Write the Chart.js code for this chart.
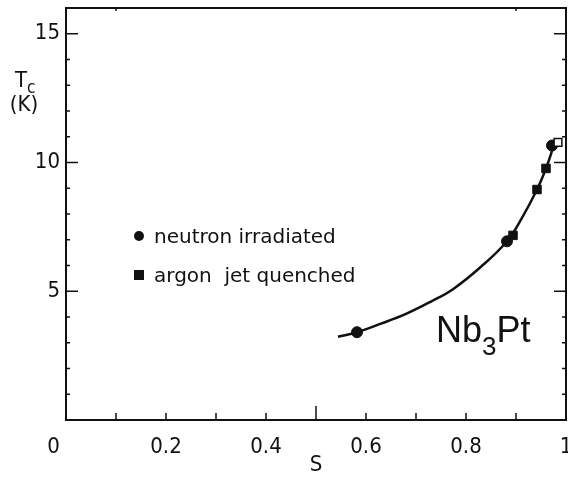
<!DOCTYPE html>
<html>
<head>
<meta charset="utf-8">
<script src="https://cdn.jsdelivr.net/npm/chart.js@4/dist/chart.umd.min.js"></script>
<style>
  body { margin: 0; background: #fff; }
  #wrap { width: 568px; height: 482px; }
</style>
</head>
<body>
<div id="wrap"><canvas id="tcChart" width="568" height="482"></canvas></div>
<script>
// values (S = order parameter, Tc in K)
var neutronS = [0.582, 0.882, 0.972];
var neutronTc = [3.41, 6.94, 10.66];
var argonS = [0.894, 0.942, 0.960];
var argonTc = [7.17, 8.95, 9.77];
var openS = [0.984];
var openTc = [10.78];
var curveS = [0.544, 0.582, 0.630, 0.680, 0.730, 0.774, 0.830, 0.882, 0.912, 0.942, 0.960, 0.972, 0.978];
var curveTc = [3.23, 3.41, 3.74, 4.12, 4.60, 5.08, 5.95, 6.94, 7.85, 8.95, 9.77, 10.45, 10.85];
var xTicks = [0, 0.2, 0.4, 0.6, 0.8, 1];
var yTicks = [5, 10, 15];

var fontFam = '"DejaVu Sans Condensed", "Liberation Sans Narrow", "DejaVu Sans", sans-serif';

function pts(xs, ys) {
    let out = [];
    for (let i = 0; i < xs.length; i++) {
        out.push({ x: xs[i], y: ys[i] });
    }
    return out;
}

var extras = {
    id: 'extras',
    afterDraw: function(chart) {
        const ctx = chart.ctx;
        const a = chart.chartArea;
        const xs = chart.scales.x;
        const ys = chart.scales.y;
        ctx.save();
        ctx.strokeStyle = '#111';
        ctx.lineWidth = 2;
        // top and right frame
        ctx.beginPath();
        ctx.moveTo(a.left, a.top);
        ctx.lineTo(a.right, a.top);
        ctx.lineTo(a.right, a.bottom);
        ctx.stroke();

        // inward tick marks
        ctx.lineWidth = 1.5;
        ctx.beginPath();
        for (let i = 1; i < 10; i++) {
            let px = xs.getPixelForValue(i / 10);
            let len = (i === 5) ? 14 : 7;
            ctx.moveTo(px, a.bottom);
            ctx.lineTo(px, a.bottom - len);
            if (i === 1 || i === 9) {
                ctx.moveTo(px, a.top);
                ctx.lineTo(px, a.top + 3);
            }
        }
        for (let v = 1; v < 16; v++) {
            let py = ys.getPixelForValue(v);
            let len = (v % 5 === 0) ? 12 : 4;
            ctx.moveTo(a.left, py);
            ctx.lineTo(a.left + len, py);
            ctx.moveTo(a.right, py);
            ctx.lineTo(a.right - len, py);
        }
        ctx.stroke();

        ctx.fillStyle = '#111';
        // y title
        ctx.textBaseline = 'alphabetic';
        ctx.textAlign = 'left';
        ctx.font = '22px ' + fontFam;
        ctx.fillText('T', 15, 87);
        ctx.font = '17px ' + fontFam;
        ctx.fillText('c', 27, 93);
        ctx.font = '22px ' + fontFam;
        ctx.textAlign = 'center';
        ctx.fillText('(K)', 24, 111);

        // legend
        ctx.beginPath();
        ctx.arc(139, 236, 5, 0, Math.PI * 2);
        ctx.fill();
        ctx.fillRect(134, 270, 10, 10);
        ctx.textAlign = 'left';
        ctx.font = '20px "DejaVu Sans", sans-serif';
        ctx.fillText('neutron irradiated', 154, 243);
        ctx.fillText('argon  jet quenched', 154, 282);

        // compound label
        ctx.font = '36px "Liberation Sans", Arimo, sans-serif';
        ctx.fillText('Nb', 436, 342);
        let w = ctx.measureText('Nb').width;
        ctx.font = '26px "Liberation Sans", Arimo, sans-serif';
        ctx.fillText('3', 436 + w, 355);
        let w3 = ctx.measureText('3').width;
        ctx.font = '36px "Liberation Sans", Arimo, sans-serif';
        ctx.fillText('Pt', 436 + w + w3, 342);
        ctx.restore();
    }
};

var ctx = document.getElementById('tcChart').getContext('2d');
new Chart(ctx, {
    type: 'scatter',
    data: {
        datasets: [{
            label: 'fit',
            data: pts(curveS, curveTc),
            showLine: true,
            borderColor: '#111',
            borderWidth: 2.5,
            pointRadius: 0,
            tension: 0.4,
            order: 2
        }, {
            label: 'neutron irradiated',
            data: pts(neutronS, neutronTc),
            pointStyle: 'circle',
            pointRadius: 5.5,
            backgroundColor: '#111',
            borderColor: '#111',
            order: 1
        }, {
            label: 'argon jet quenched',
            data: pts(argonS, argonTc),
            pointStyle: 'rect',
            pointRadius: 6,
            backgroundColor: '#111',
            borderColor: '#111',
            order: 1
        }, {
            label: 'open',
            data: pts(openS, openTc),
            pointStyle: 'rect',
            pointRadius: 5.5,
            backgroundColor: '#fff',
            borderColor: '#111',
            borderWidth: 1.5,
            order: 0
        }]
    },
    options: {
        responsive: false,
        animation: false,
        layout: { autoPadding: false, padding: { top: 8, right: 2, left: 0, bottom: 0 } },
        plugins: { legend: { display: false }, tooltip: { enabled: false } },
        scales: {
            x: {
                type: 'linear',
                min: 0,
                max: 1,
                afterBuildTicks: function(scale) {
                    scale.ticks = xTicks.map(function(v) { return { value: v }; });
                },
                afterFit: function(scale) {
                    scale.height = 62;
                    scale.paddingLeft = 0;
                    scale.paddingRight = 0;
                },
                ticks: {
                    autoSkip: false,
                    maxRotation: 0,
                    padding: 14,
                    color: '#111',
                    font: { family: fontFam, size: 22 },
                    callback: function(v) {
                        // the zero label sits left of the corner in the original
                        return v === 0 ? '0    ' : String(Math.round(v * 10) / 10);
                    }
                },
                grid: { drawOnChartArea: false, drawTicks: false },
                border: { color: '#111', width: 2 },
                title: {
                    display: true,
                    text: 'S',
                    color: '#111',
                    padding: { top: 0 },
                    font: { family: fontFam, size: 22 }
                }
            },
            y: {
                type: 'linear',
                min: 0,
                max: 16,
                afterBuildTicks: function(scale) {
                    scale.ticks = yTicks.map(function(v) { return { value: v }; });
                },
                afterFit: function(scale) {
                    scale.width = 66;
                    scale.paddingTop = 0;
                    scale.paddingBottom = 0;
                },
                ticks: {
                    autoSkip: false,
                    padding: 6,
                    color: '#111',
                    font: { family: fontFam, size: 22 }
                },
                grid: { drawOnChartArea: false, drawTicks: false },
                border: { color: '#111', width: 2 }
            }
        }
    },
    plugins: [extras]
});
</script>
</body>
</html>
